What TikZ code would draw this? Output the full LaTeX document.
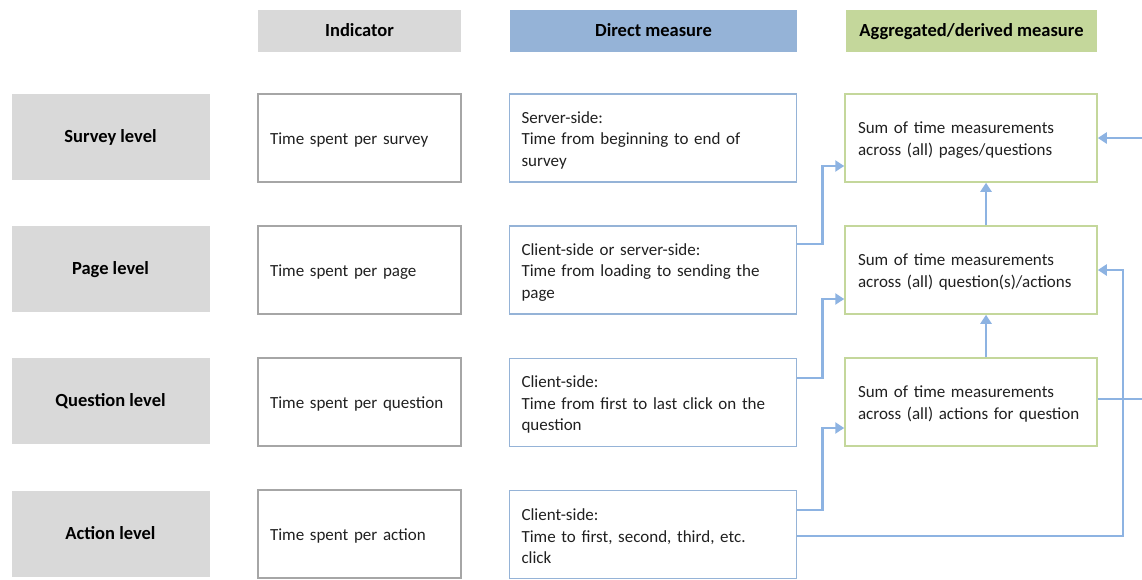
\documentclass[tikz,border=0pt]{standalone}
\usepackage{fontspec}
\setmainfont{Carlito}
\usetikzlibrary{arrows.meta}
\definecolor{lvlgray}{HTML}{D9D9D9}
\definecolor{hdrblue}{HTML}{95B3D7}
\definecolor{hdrgreen}{HTML}{C4D79B}
\definecolor{indborder}{HTML}{A6A6A6}
\definecolor{dirborder}{HTML}{95B3D7}
\definecolor{aggborder}{HTML}{C4D79B}
\definecolor{conncol}{HTML}{8DB3E2}
\definecolor{bodytext}{HTML}{202020}
\newcommand{\mybodyfont}{\fontsize{17}{21.5}\selectfont\hyphenpenalty=10000\relax\exhyphenpenalty=10000\relax}
\newcommand{\topstrut}{\rule{0pt}{16pt}}
\begin{document}
\begin{tikzpicture}[x=1pt,y=-1pt,
  bodyfont/.style={font=\mybodyfont, text=bodytext, execute at begin node=\topstrut},
  boldfont/.style={font=\fontsize{18.5}{22}\selectfont\bfseries, text=black, text height=11pt, text depth=0pt},
  hdr/.style={boldfont, minimum height=42pt, inner sep=0pt},
  lvl/.style={boldfont, fill=lvlgray, minimum width=198pt, minimum height=86pt, inner sep=0pt},
  ind/.style={bodyfont, draw=indborder, line width=1.5pt, text width=179pt, inner xsep=12pt, inner ysep=0pt, minimum height=88pt, align=left},
  dirbox/.style={bodyfont, draw=dirborder, line width=1.5pt, text width=263pt, inner xsep=12pt, inner ysep=0pt, minimum height=88pt, align=left},
  aggbox/.style={bodyfont, draw=aggborder, line width=1.5pt, text width=226pt, inner xsep=13pt, inner ysep=0pt, minimum height=88pt, align=left},
  conn/.style={draw=conncol, line width=2.5pt},
  arr/.style={conn, -{Triangle[length=9pt,width=11pt]}}
]
\useasboundingbox (0,0) rectangle (1142,579);

% headers
\node[hdr, fill=lvlgray, minimum width=203pt] (h1) at (359.5,31) {Indicator};
\node[hdr, fill=hdrblue, minimum width=287pt] (h2) at (653.5,31) {Direct measure};
\node[hdr, fill=hdrgreen, minimum width=251pt] (h3) at (971.5,31) {Aggregated/derived measure};

% level labels
\node[lvl] (l1) at (110.5,137) {Survey level};
\node[lvl] (l2) at (110.5,269) {Page level};
\node[lvl] (l3) at (110.5,401) {Question level};
\node[lvl] (l4) at (110.5,533.5) {Action level};

% indicators
\node[ind] (i1) at (359.5,138) {Time spent per survey};
\node[ind] (i2) at (359.5,270) {Time spent per page};
\node[ind] (i3) at (359.5,402) {Time spent per question};
\node[ind] (i4) at (359.5,534) {Time spent per action};

% direct measures
\node[dirbox] (d1) at (653,138) {Server-side:\\Time from beginning to end of\\survey};
\node[dirbox] (d2) at (653,270) {Client-side or server-side:\\Time from loading to sending the\\page};
\node[dirbox] (d3) at (653,402.5) {Client-side:\\Time from first to last click on the\\question};
\node[dirbox] (d4) at (653,534.5) {Client-side:\\Time to first, second, third, etc.\\click};

% aggregated measures
\node[aggbox] (a1) at (971,138) {Sum of time measurements\\across (all) pages/questions};
\node[aggbox] (a2) at (971,270) {Sum of time measurements\\across (all) question(s)/actions};
\node[aggbox] (a3) at (971,402) {Sum of time measurements\\across (all) actions for question};

% free ends at the right edge
\coordinate (r1) at (1142,138);
\coordinate (r3) at (1142,399);

% connectors
\draw[arr] ([yshift=26pt]d2.east) -- ++(25,0) |- ([yshift=-28pt]a1.west);
\draw[arr] ([yshift=24.5pt]d3.east) -- ++(25,0) |- ([yshift=-29pt]a2.west);
\draw[arr] ([yshift=24.5pt]d4.east) -- ++(25,0) |- ([yshift=-26pt]a3.west);
\draw[arr] ([yshift=-1.5pt]d4.east) -| ([xshift=25pt]a2.east) -- (a2.east);
\draw[conn] ([yshift=3pt]a3.east) -- (r3);
\draw[arr] (r1) -- (a1.east);
\draw[arr] ([xshift=15pt]a2.north) -- ([xshift=15pt]a1.south);
\draw[arr] ([xshift=15pt]a3.north) -- ([xshift=15pt]a2.south);
\end{tikzpicture}
\end{document}
